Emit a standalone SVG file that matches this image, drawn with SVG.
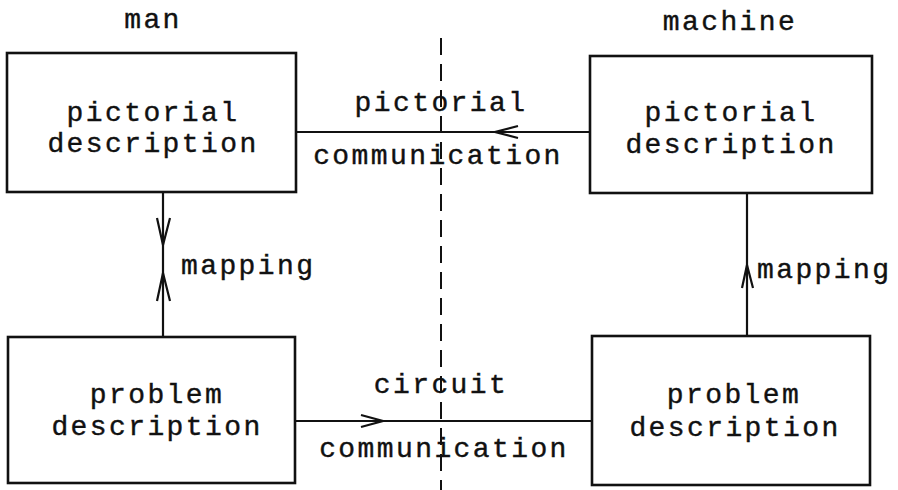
<svg xmlns="http://www.w3.org/2000/svg" width="898" height="490" viewBox="0 0 898 490">
<style>
.box{fill:#fff;stroke:#111;stroke-width:2.6}
.t{font-family:"Liberation Mono","Courier New",monospace;font-size:28px;letter-spacing:2.4px;fill:#111;stroke:#111;stroke-width:0.4;text-anchor:middle}
.tl{text-anchor:start}
.ln{fill:none;stroke:#111;stroke-width:2.2}
.ah{fill:none;stroke:#111;stroke-width:2.2;stroke-linejoin:miter}
.dash{fill:none;stroke:#111;stroke-width:2;stroke-dasharray:17 9}
</style>
<rect width="898" height="490" fill="#fff"/>
<text class="t" x="153" y="28">man</text>
<text class="t" x="730" y="30">machine</text>
<g id="connectors">
<path class="ln" d="M590 132H296"/>
<path class="ah" d="M518 126L495 132L518 138"/>
<path class="ln" d="M295 421H592"/>
<path class="ah" d="M361 415L383 421L361 427"/>
<path class="ln" d="M163 192V337"/>
<path class="ah" d="M157 218L163 245L170 218"/>
<path class="ah" d="M157 301L163 273L170 301"/>
<path class="ln" d="M747 193V336"/>
<path class="ah" d="M742 288L747 265L753 288"/>
<text class="t" x="441" y="111">pictorial</text>
<text class="t" x="438" y="164">communication</text>
<text class="t" x="441" y="393">circuit</text>
<text class="t" x="444" y="457">communication</text>
<text class="t tl" x="181" y="274">mapping</text>
<text class="t tl" x="757" y="278">mapping</text>
</g>
<g id="man-pictorial">
<rect class="box" x="7" y="53" width="289" height="139"/>
<text class="t" x="153" y="121">pictorial</text>
<text class="t" x="153" y="152">description</text>
</g>
<g id="machine-pictorial">
<rect class="box" x="590" y="56" width="282" height="137"/>
<text class="t" x="731" y="121">pictorial</text>
<text class="t" x="731" y="153">description</text>
</g>
<g id="man-problem">
<rect class="box" x="8" y="337" width="287" height="146"/>
<text class="t" x="157" y="403">problem</text>
<text class="t" x="157" y="435">description</text>
</g>
<g id="machine-problem">
<rect class="box" x="592" y="336" width="278" height="149"/>
<text class="t" x="734" y="403">problem</text>
<text class="t" x="735" y="436">description</text>
</g>
<path class="dash" d="M441 38V490"/>
</svg>
